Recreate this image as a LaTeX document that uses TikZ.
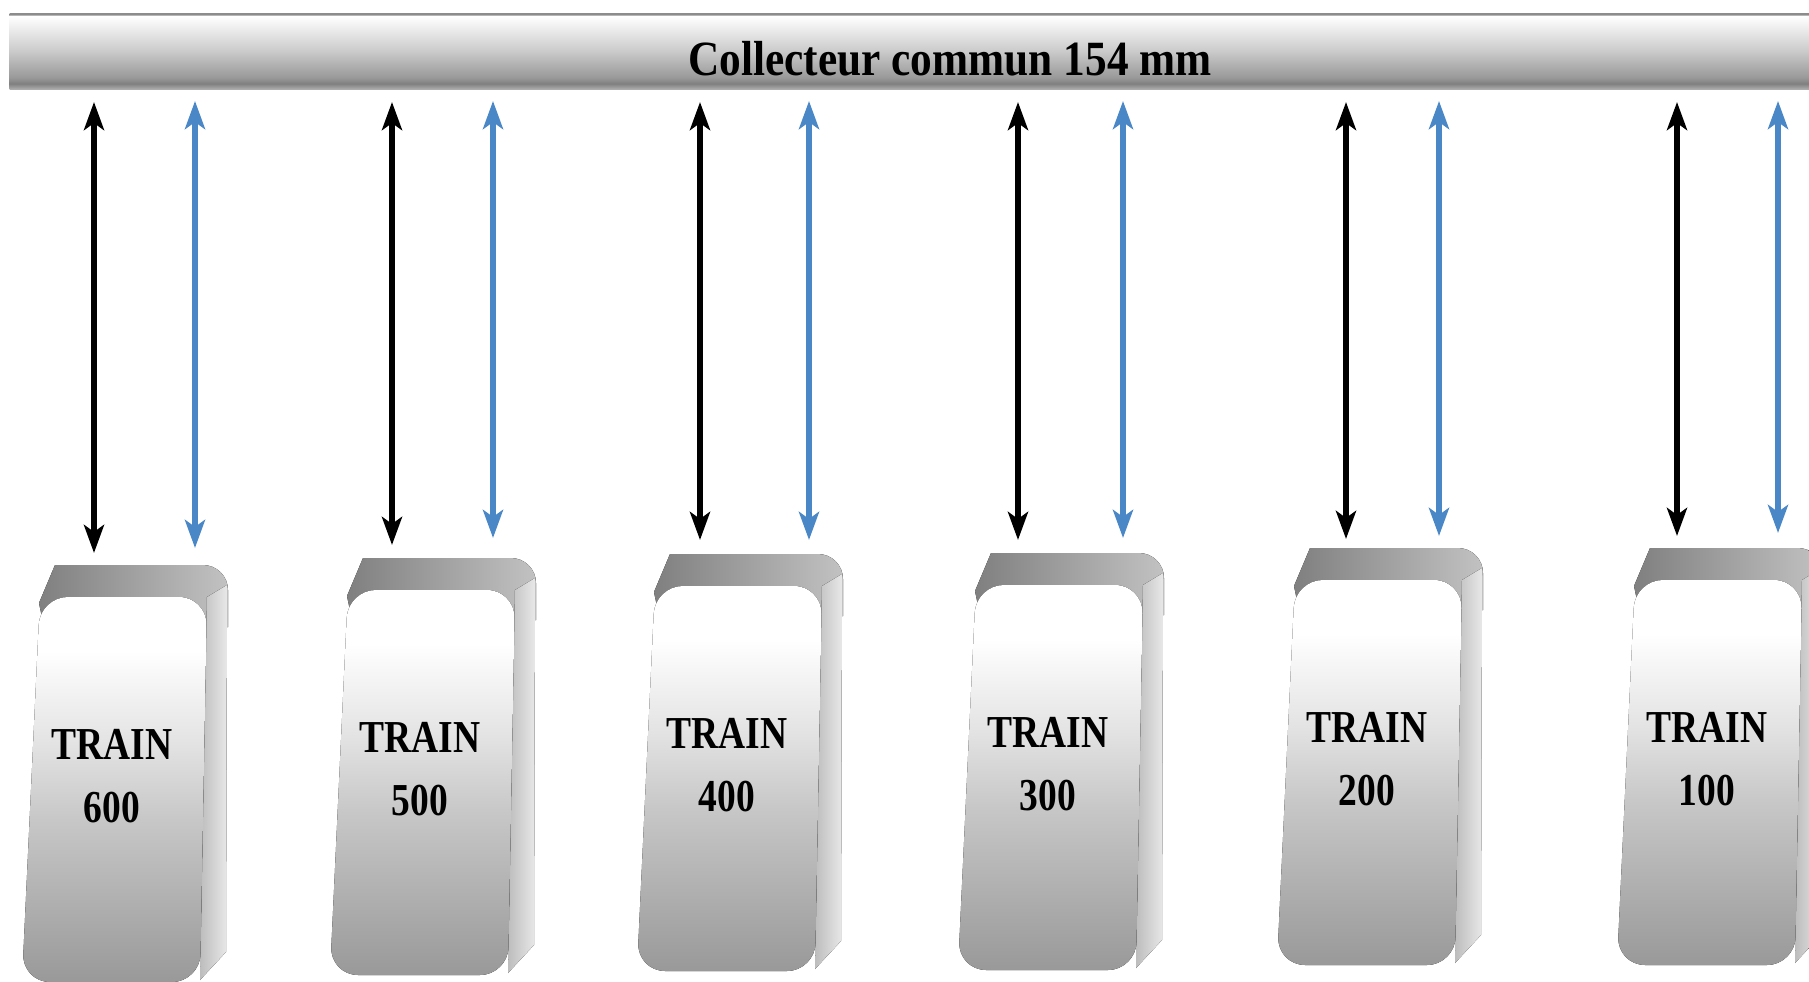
\documentclass[tikz,border=0pt]{standalone}
\usepackage{fontspec}
\setmainfont{Liberation Serif}[FakeStretch=0.82]
\newfontfamily\titlefont{Liberation Serif}[FakeStretch=0.88]
\usetikzlibrary{arrows.meta}
\definecolor{lblue}{rgb}{0.29, 0.53, 0.78}
\pgfdeclareverticalshading{collshade}{100bp}{color(0bp)=(black!30); color(25bp)=(black!30); color(29bp)=(black!50); color(33bp)=(black!40); color(51bp)=(black!20); color(70bp)=(black!3); color(73.5bp)=(white); color(74.5bp)=(black!45); color(100bp)=(black!45)}
\pgfdeclareverticalshading{faceshade}{100bp}{color(0bp)=(black!40); color(25bp)=(black!40); color(46bp)=(black!22); color(56bp)=(black!11); color(68bp)=(white); color(100bp)=(white)}

\begin{document}
\begin{tikzpicture}[x=0.01cm, y=-0.01cm,
    fleche/.style={{Stealth[length=2.8mm,width=2mm,inset=0.7mm]}-{Stealth[length=2.8mm,width=2mm,inset=0.7mm]}, line width=1.9pt},
    trainlbl/.style={font=\bfseries\fontsize{13}{18}\selectfont, align=center}]
  \useasboundingbox (0,0) rectangle (1809,982);

  \node [shading=collshade, minimum width=18cm, minimum height=0.76cm, inner sep=0, anchor=north west] (coll) at (9,13) {};
  \node [font=\titlefont\bfseries\fontsize{14}{16}\selectfont, anchor=base] (titre) at (950,76) {Collecteur commun 154 mm};

  \foreach \n/\L/\T/\xn/\xb/\yn/\yb in {600/22/597/94/195/553/548, 500/330/590/392/493/545/538,
      400/637/586/700/809/540/540, 300/958/585/1018/1123/540/538,
      200/1277/580/1346/1439/539/536, 100/1617/580/1677/1778/536/533}{
    \begin{scope}[shift={(\L,\T)}]
      \fill [left color=black!50, right color=black!24] (17,6) -- (33,-32) [rounded corners=0.25cm] -- (206,-32) [sharp corners] -- (206,30) -- (22,30) -- cycle;
      \fill [left color=black!26, right color=black!9] (185,0) -- (205,-12) -- (204,355) -- (178,383) -- cycle;
      \fill [shading=faceshade, rounded corners=0.28cm] (18,0) -- (185,0) -- (178,385) -- (0,385) -- cycle;
      \node [trainlbl] (train\n) at (90,179) {TRAIN\\\n};
    \end{scope}
    \coordinate (nh\n) at (\xn,102);
    \coordinate (nb\n) at (\xn,\yn);
    \coordinate (bh\n) at (\xb,101);
    \coordinate (bb\n) at (\xb,\yb);
    \draw [fleche] (nh\n) -- (nb\n);
    \draw [fleche, lblue] (bh\n) -- (bb\n);
  }
\end{tikzpicture}
\end{document}
